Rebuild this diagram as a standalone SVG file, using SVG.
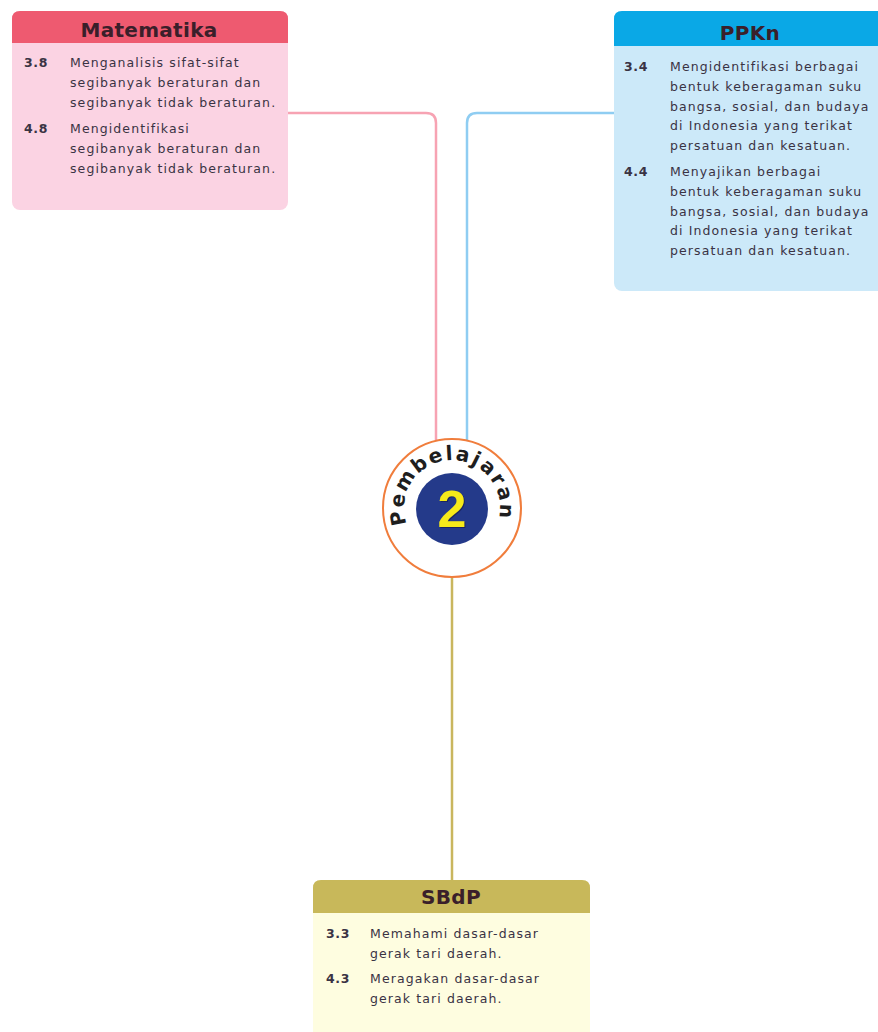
<svg xmlns="http://www.w3.org/2000/svg" width="878" height="1032" viewBox="0 0 878 1032">
<style>
.hd{font-family:"DejaVu Sans",sans-serif;font-size:20px;font-weight:bold;fill:#3a1f2a;text-anchor:middle;letter-spacing:0.3px}
.num{font-family:"DejaVu Sans",sans-serif;font-size:12.5px;font-weight:bold;fill:#3a3344;letter-spacing:0.6px}
.tx{font-family:"DejaVu Sans",sans-serif;font-size:12.5px;fill:#3a3344;letter-spacing:1.1px}
.conn{fill:none;stroke-width:2.5}
.pl{font-family:"DejaVu Sans",sans-serif;font-weight:bold;font-size:20px;fill:#1e1e1e;text-anchor:middle}
</style>
<g id="connectors">
<path class="conn" stroke="#f7a3b3" d="M288 113 H426 Q436 113 436 123 V440"/>
<path class="conn" stroke="#8fcdf2" d="M614 113 H477 Q467 113 467 123 V440"/>
<line class="conn" stroke="#c9b65e" stroke-width="2" x1="452" y1="577" x2="452" y2="880"/>
</g>
<g id="matematika">
<rect x="12" y="11" width="276" height="199" rx="8" fill="#fbd3e3"/>
<path d="M12 43 V19 Q12 11 20 11 H280 Q288 11 288 19 V43 Z" fill="#ee5a70"/>
<text class="hd" x="149" y="37">Matematika</text>
<text class="num" x="24" y="67">3.8</text>
<text class="tx" x="70" y="67">Menganalisis sifat-sifat</text>
<text class="tx" x="70" y="87">segibanyak beraturan dan</text>
<text class="tx" x="70" y="107">segibanyak tidak beraturan.</text>
<text class="num" x="24" y="133">4.8</text>
<text class="tx" x="70" y="133">Mengidentifikasi</text>
<text class="tx" x="70" y="153">segibanyak beraturan dan</text>
<text class="tx" x="70" y="173">segibanyak tidak beraturan.</text>
</g>
<g id="ppkn">
<rect x="614" y="11" width="272" height="280" rx="8" fill="#cce9f9"/>
<path d="M614 46 V19 Q614 11 622 11 H878 V46 Z" fill="#0aa8e6"/>
<text class="hd" x="750" y="40">PPKn</text>
<text class="num" x="624" y="71">3.4</text>
<text class="tx" x="670" y="71">Mengidentifikasi berbagai</text>
<text class="tx" x="670" y="91">bentuk keberagaman suku</text>
<text class="tx" x="670" y="111">bangsa, sosial, dan budaya</text>
<text class="tx" x="670" y="130">di Indonesia yang terikat</text>
<text class="tx" x="670" y="150">persatuan dan kesatuan.</text>
<text class="num" x="624" y="176">4.4</text>
<text class="tx" x="670" y="176">Menyajikan berbagai</text>
<text class="tx" x="670" y="196">bentuk keberagaman suku</text>
<text class="tx" x="670" y="216">bangsa, sosial, dan budaya</text>
<text class="tx" x="670" y="235">di Indonesia yang terikat</text>
<text class="tx" x="670" y="255">persatuan dan kesatuan.</text>
</g>
<g id="pembelajaran">
<circle cx="452" cy="508" r="69" fill="#ffffff" stroke="#f07d3c" stroke-width="2"/>
<circle cx="452" cy="509" r="36" fill="#243a8a"/>
<text x="453" y="528" font-family="Liberation Sans, sans-serif" font-weight="bold" font-size="52" fill="#1b2660" text-anchor="middle">2</text>
<text x="452" y="527" font-family="Liberation Sans, sans-serif" font-weight="bold" font-size="52" fill="#f6ea1a" text-anchor="middle">2</text>
<text class="pl" x="452" y="460" transform="rotate(-101 452 508)">P</text>
<text class="pl" x="452" y="460" transform="rotate(-82 452 508)">e</text>
<text class="pl" x="452" y="460" transform="rotate(-59.6 452 508)">m</text>
<text class="pl" x="452" y="460" transform="rotate(-37 452 508)">b</text>
<text class="pl" x="452" y="460" transform="rotate(-18.1 452 508)">e</text>
<text class="pl" x="452" y="460" transform="rotate(-3.2 452 508)">l</text>
<text class="pl" x="452" y="460" transform="rotate(11.7 452 508)">a</text>
<text class="pl" x="452" y="460" transform="rotate(26.5 452 508)">j</text>
<text class="pl" x="452" y="460" transform="rotate(41.4 452 508)">a</text>
<text class="pl" x="452" y="460" transform="rotate(57.8 452 508)">r</text>
<text class="pl" x="452" y="460" transform="rotate(74.3 452 508)">a</text>
<text class="pl" x="452" y="460" transform="rotate(93 452 508)">n</text>
</g>
<g id="sbdp">
<rect x="313" y="880" width="277" height="160" rx="8" fill="#fefde0"/>
<path d="M313 913 V888 Q313 880 321 880 H582 Q590 880 590 888 V913 Z" fill="#c8b85a"/>
<text class="hd" x="451" y="904">SBdP</text>
<text class="num" x="326" y="938">3.3</text>
<text class="tx" x="370" y="938">Memahami dasar-dasar</text>
<text class="tx" x="370" y="958">gerak tari daerah.</text>
<text class="num" x="326" y="983">4.3</text>
<text class="tx" x="370" y="983">Meragakan dasar-dasar</text>
<text class="tx" x="370" y="1003">gerak tari daerah.</text>
</g>
</svg>
